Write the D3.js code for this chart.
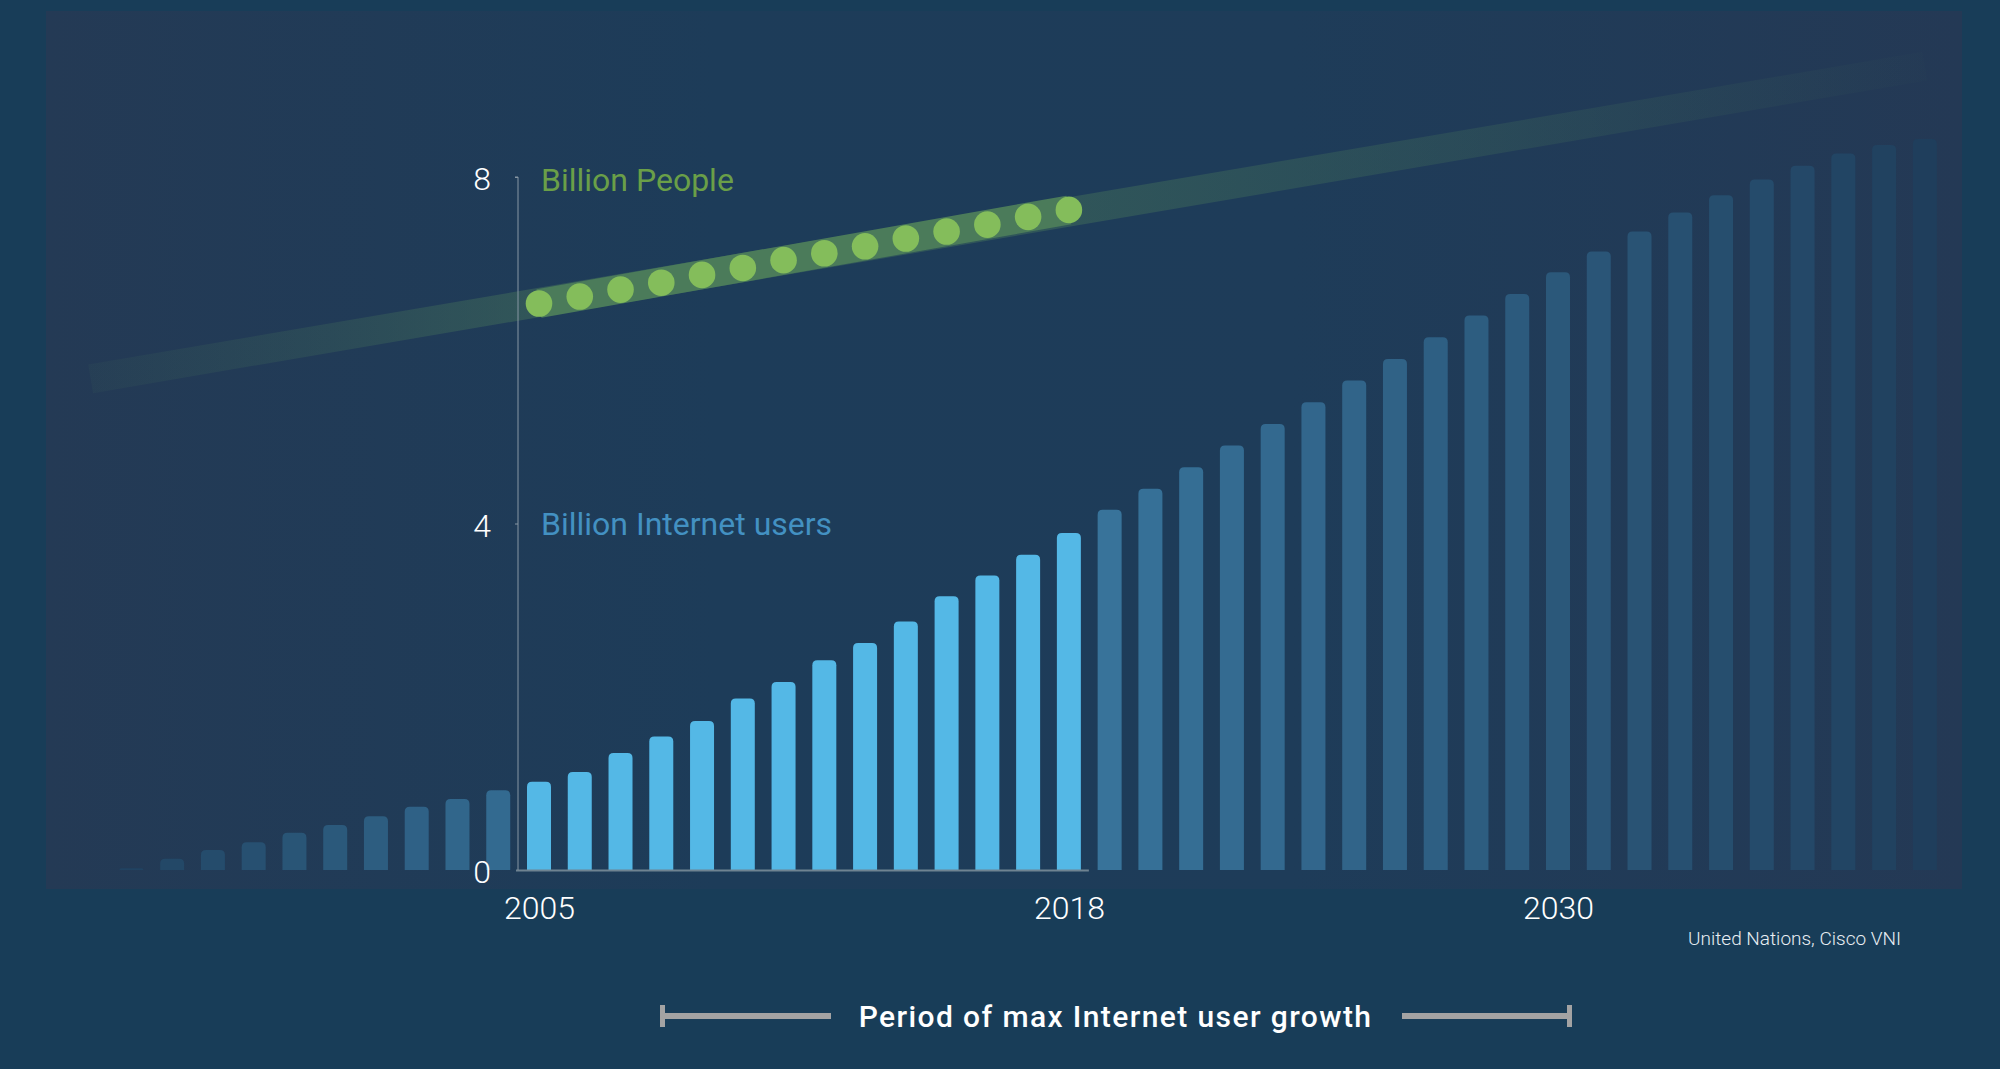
<!DOCTYPE html>
<html>
<head>
<meta charset="utf-8">
<script src="https://cdn.jsdelivr.net/npm/d3@7"></script>
<style>
  html, body { margin: 0; padding: 0; background: #183d58; }
  svg { display: block; }
</style>
</head>
<body>
<svg id="chart" width="2000" height="1069"></svg>
<script>
// ---------------- DATA ----------------
const barYears = [1995,1996,1997,1998,1999,2000,2001,2002,2003,2004,
  2005,2006,2007,2008,2009,2010,2011,2012,2013,2014,2015,2016,2017,2018,
  2019,2020,2021,2022,2023,2024,2025,2026,2027,2028,2029,2030,
  2031,2032,2033,2034,2035,2036,2037,2038,2039];
const internetUsers = [0.02,0.13,0.23,0.32,0.43,0.52,0.62,0.73,0.82,0.92,
  1.02,1.13,1.35,1.54,1.72,1.98,2.17,2.42,2.62,2.87,3.16,3.40,3.64,3.89,
  4.16,4.40,4.65,4.90,5.15,5.40,5.65,5.90,6.15,6.40,6.65,6.90,
  7.14,7.37,7.59,7.79,7.97,8.13,8.27,8.37,8.44];
const highlightYears = [2005, 2018];           // bright section
const popYears = [2005,2006,2007,2008,2009,2010,2011,2012,2013,2014,2015,2016,2017,2018];
const population = [6.54,6.62,6.70,6.78,6.87,6.95,7.04,7.12,7.20,7.29,7.37,7.45,7.54,7.62];
const popTrendYears = [1994, 2039];
const popTrendValues = [5.67, 9.28];
const yTicks = [0, 4, 8];
const xTickYears = [2005, 2018, 2030];
const seriesLabels = ["Billion People", "Billion Internet users"];
const sourceText = "United Nations, Cisco VNI";
const periodText = "Period of max Internet user growth";

// ---------------- SETUP ----------------
const svg = d3.select("#chart");
const W = 2000, H = 1069;
const FONT = "'Helvetica Neue', Roboto, 'Liberation Sans', Arial, sans-serif";

const x = d3.scaleLinear().domain([2005, 2030]).range([539, 1558]);
const y = d3.scaleLinear().domain([0, 8]).range([870, 177]);
const barW = 24;

const defs = svg.append("defs");

// outer background
svg.append("rect").attr("width", W).attr("height", H).attr("fill", "#183d58");

// panel gradient
const pg = defs.append("linearGradient").attr("id", "panelGrad")
  .attr("x1", "0").attr("x2", "1").attr("y1", "0").attr("y2", "0");
pg.append("stop").attr("offset", "0").attr("stop-color", "#243a55");
pg.append("stop").attr("offset", "0.35").attr("stop-color", "#1d3c59");
pg.append("stop").attr("offset", "0.65").attr("stop-color", "#1e3c59");
pg.append("stop").attr("offset", "1").attr("stop-color", "#243955");
svg.append("rect").attr("x", 46).attr("y", 11).attr("width", 1916).attr("height", 878)
  .attr("fill", "url(#panelGrad)");

// ---------------- POPULATION BAND ----------------
const bandGrad = defs.append("linearGradient").attr("id", "bandGrad")
  .attr("gradientUnits", "userSpaceOnUse")
  .attr("x1", x(popTrendYears[0])).attr("x2", x(popTrendYears[1]))
  .attr("y1", 0).attr("y2", 0);
const bandStops = [[1994, 0.08], [2000, 0.24], [2005, 0.42], [2018, 0.40], [2028, 0.24], [2036, 0.08], [2039, 0.02]];
bandStops.forEach(([yr, op]) => {
  bandGrad.append("stop")
    .attr("offset", (yr - popTrendYears[0]) / (popTrendYears[1] - popTrendYears[0]))
    .attr("stop-color", "#4b7b5a").attr("stop-opacity", op);
});
const trend = popTrendYears.map((yr, i) => [yr, popTrendValues[i]]);
const lineGen = d3.line().x(d => x(d[0])).y(d => y(d[1]));
svg.append("path").datum(trend).attr("d", lineGen)
  .attr("fill", "none").attr("stroke", "url(#bandGrad)").attr("stroke-width", 29)
  .attr("stroke-linecap", "butt");

// bright segment under the dots
const popPts = popYears.map((yr, i) => [yr, population[i]]);
svg.append("path").datum([popPts[0], popPts[popPts.length - 1]]).attr("d", lineGen)
  .attr("fill", "none").attr("stroke", "#4b7b5a").attr("stroke-width", 29);

// ---------------- BARS ----------------
const bars = barYears.map((yr, i) => ({ year: yr, v: internetUsers[i] }));
const fadeScale = d3.scaleLinear()
  .domain([1995, 2004, 2019, 2030, 2036, 2039])
  .range([0.12, 0.74, 0.88, 0.45, 0.2, 0.04])
  .clamp(true);
const fadedColor = d3.color("#3b7aa3");
function barColor(d) {
  if (d.year >= highlightYears[0] && d.year <= highlightYears[1]) return "#54b8e6";
  const bg = d3.color("#1e3c59");
  return d3.interpolateRgb(bg, fadedColor)(fadeScale(d.year));
}
function barPath(d) {
  const x0 = x(d.year) - barW / 2, x1 = x(d.year) + barW / 2;
  const yb = y(0), yt = y(d.v);
  const h = yb - yt;
  const r = Math.min(5, h, barW / 2);
  return `M${x0},${yb} L${x0},${yt + r} Q${x0},${yt} ${x0 + r},${yt} L${x1 - r},${yt} Q${x1},${yt} ${x1},${yt + r} L${x1},${yb} Z`;
}
svg.append("g").selectAll("path").data(bars).join("path")
  .attr("d", barPath)
  .attr("fill", barColor);

// baseline under bright bars
svg.append("line")
  .attr("x1", 516).attr("x2", x(highlightYears[1]) + barW / 2 + 8)
  .attr("y1", y(0) + 0.5).attr("y2", y(0) + 0.5)
  .attr("stroke", "#6f8391").attr("stroke-width", 2);

// ---------------- POPULATION DOTS ----------------
svg.append("g").selectAll("circle").data(popPts).join("circle")
  .attr("cx", d => x(d[0])).attr("cy", d => y(d[1])).attr("r", 13.3)
  .attr("fill", "#84bd5b");

// ---------------- Y AXIS ----------------
const yAxis = d3.axisLeft(y).tickValues(yTicks).tickSize(3).tickPadding(24);
const gy = svg.append("g").attr("transform", "translate(518,0)").call(yAxis);
gy.select(".domain").attr("stroke", "#8796a3").attr("stroke-width", 1)
  .attr("d", `M-3,${y(8)}H0V${y(0)}`);
gy.selectAll(".tick line").attr("stroke", "#8796a3");
gy.selectAll(".tick text")
  .attr("fill", "#ffffff").attr("font-family", FONT).attr("font-weight", 300)
  .attr("font-size", 32).attr("dy", "0.4em");
gy.selectAll(".tick").filter(d => d === 0).select("line").remove();

// series labels
svg.append("text").attr("x", 541).attr("y", 191).text(seriesLabels[0])
  .attr("fill", "#6a9f48").attr("font-family", FONT).attr("font-size", 32);
svg.append("text").attr("x", 541).attr("y", 535).text(seriesLabels[1])
  .attr("fill", "#4391c2").attr("font-family", FONT).attr("font-size", 32);

// ---------------- X AXIS LABELS ----------------
const xAxis = d3.axisBottom(x).tickValues(xTickYears).tickSize(0).tickPadding(0)
  .tickFormat(d3.format("d"));
const gx = svg.append("g").attr("transform", "translate(0,919)").call(xAxis);
gx.select(".domain").remove();
gx.selectAll(".tick text")
  .attr("fill", "#ffffff").attr("font-family", FONT).attr("font-weight", 300)
  .attr("font-size", 32).attr("dy", 0).attr("y", 0);

// source
svg.append("text").attr("x", 1901).attr("y", 945).attr("text-anchor", "end")
  .text(sourceText).attr("fill", "#e8eef3").attr("font-family", FONT)
  .attr("font-weight", 300).attr("font-size", 19);

// ---------------- PERIOD BRACKET ----------------
const bracketColor = "#a3a3a3";
const gb = svg.append("g");
gb.append("line").attr("x1", 660).attr("x2", 831).attr("y1", 1016).attr("y2", 1016)
  .attr("stroke", bracketColor).attr("stroke-width", 6);
gb.append("line").attr("x1", 662.5).attr("x2", 662.5).attr("y1", 1005).attr("y2", 1027)
  .attr("stroke", bracketColor).attr("stroke-width", 5);
gb.append("line").attr("x1", 1402).attr("x2", 1572).attr("y1", 1016).attr("y2", 1016)
  .attr("stroke", bracketColor).attr("stroke-width", 6);
gb.append("line").attr("x1", 1569.5).attr("x2", 1569.5).attr("y1", 1005).attr("y2", 1027)
  .attr("stroke", bracketColor).attr("stroke-width", 5);
svg.append("text").attr("x", 1115.5).attr("y", 1027).attr("text-anchor", "middle")
  .text(periodText).attr("fill", "#ffffff").attr("font-family", FONT)
  .attr("font-weight", 500).attr("font-size", 30).attr("letter-spacing", 1.4);
</script>
</body>
</html>
